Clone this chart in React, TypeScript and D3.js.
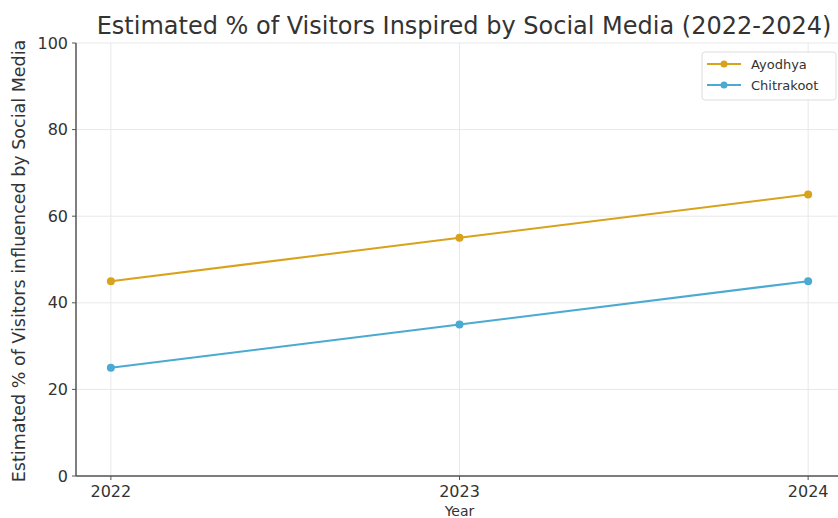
import React from "react";
import * as d3 from "d3";

const years = [2022, 2023, 2024];
const ayodhya = [45, 55, 65];
const chitrakoot = [25, 35, 45];
const yTicks = [0, 20, 40, 60, 80, 100];
const seriesNames = ["Ayodhya", "Chitrakoot"];
const seriesColors = ["#D9A21B", "#4AAAD2"];

const W = 838;
const H = 518;
const FONT = "'DejaVu Sans', sans-serif";

export default function App() {
  const x = d3.scaleLinear().domain([2021.9, 2024.1]).range([76, 843]);
  const y = d3.scaleLinear().domain([0, 100]).range([476, 43]);
  const line = d3
    .line<[number, number]>()
    .x((d) => x(d[0]))
    .y((d) => y(d[1]));
  const series = [ayodhya, chitrakoot];

  return (
    <svg
      width={W}
      height={H}
      style={{ position: "absolute", left: 0, top: 0, background: "#fff" }}
      fontFamily={FONT}
    >
      <rect width={W} height={H} fill="#fff" />
      {/* grid */}
      {yTicks.map((t) => (
        <line key={"gy" + t} x1={x(2021.9)} x2={W} y1={y(t)} y2={y(t)} stroke="#e8e8e8" strokeWidth={1} />
      ))}
      {years.map((t) => (
        <line key={"gx" + t} x1={x(t)} x2={x(t)} y1={y(100)} y2={y(0)} stroke="#e8e8e8" strokeWidth={1} />
      ))}
      {/* lines */}
      {series.map((s, i) => (
        <g key={seriesNames[i]}>
          <path
            d={line(years.map((yr, j) => [yr, s[j]] as [number, number])) || ""}
            fill="none"
            stroke={seriesColors[i]}
            strokeWidth={2}
          />
          {years.map((yr, j) => (
            <circle key={yr} cx={x(yr)} cy={y(s[j])} r={4} fill={seriesColors[i]} />
          ))}
        </g>
      ))}
      {/* axes */}
      <line x1={x(2021.9)} x2={x(2021.9)} y1={y(100)} y2={y(0)} stroke="#555" strokeWidth={1.5} />
      <line x1={x(2021.9)} x2={W} y1={y(0)} y2={y(0)} stroke="#555" strokeWidth={1.5} />
      {yTicks.map((t) => (
        <g key={"yt" + t}>
          <line x1={x(2021.9) - 4} x2={x(2021.9)} y1={y(t)} y2={y(t)} stroke="#555" />
          <text x={x(2021.9) - 8} y={y(t)} dy="0.35em" textAnchor="end" fontSize={16} fill="#333">
            {t}
          </text>
        </g>
      ))}
      {years.map((t) => (
        <g key={"xt" + t}>
          <line x1={x(t)} x2={x(t)} y1={y(0)} y2={y(0) + 4} stroke="#555" />
          <text x={x(t)} y={y(0) + 21} textAnchor="middle" fontSize={16} fill="#333">
            {t}
          </text>
        </g>
      ))}
      <text x={x(2023)} y={516} textAnchor="middle" fontSize={14} fill="#333">
        Year
      </text>
      <text
        transform={`translate(25, 261) rotate(-90)`}
        textAnchor="middle"
        fontSize={17.5}
        fill="#333"
      >
        Estimated % of Visitors influenced by Social Media
      </text>
      <text x={464} y={34} textAnchor="middle" fontSize={24} fill="#333">
        Estimated % of Visitors Inspired by Social Media (2022-2024)
      </text>
      {/* legend */}
      <g>
        <rect x={702} y={52} width={134} height={48} rx={3} fill="#fff" fillOpacity={0.85} stroke="#ddd" />
        {seriesNames.map((n, i) => (
          <g key={n} transform={`translate(707, ${64 + i * 21})`}>
            <line x1={0} x2={34} y1={0} y2={0} stroke={seriesColors[i]} strokeWidth={2} />
            <circle cx={17} cy={0} r={3.5} fill={seriesColors[i]} />
            <text x={44} y={0} dy="0.35em" fontSize={13} fill="#333">
              {n}
            </text>
          </g>
        ))}
      </g>
    </svg>
  );
}
